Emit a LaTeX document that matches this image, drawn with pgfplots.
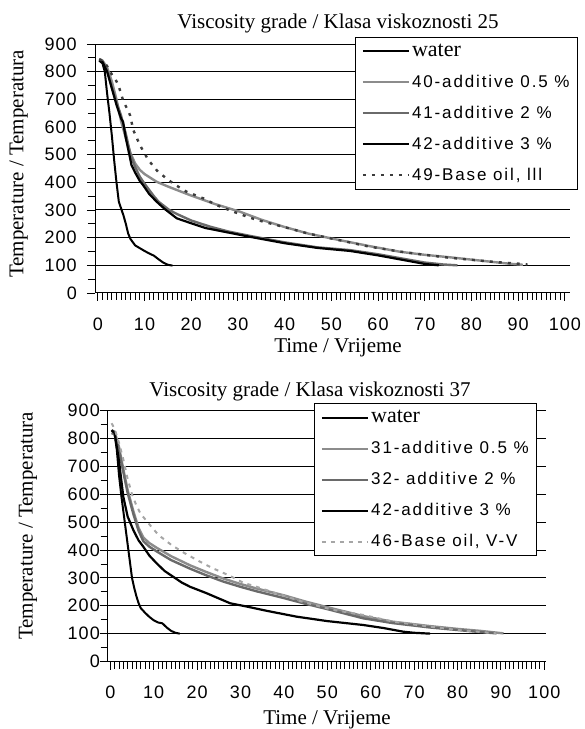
\documentclass[border=0pt]{standalone}
\usepackage{fontspec}
\setmainfont{Liberation Serif}
\newfontfamily\legfont[LetterSpace=11]{Liberation Sans}
\newfontfamily\tickfont[LetterSpace=6]{Liberation Sans}
\usepackage{pgfplots}
\pgfplotsset{compat=1.18}
\definecolor{lgray}{HTML}{8C8C8C}
\definecolor{dgray}{HTML}{6A6A6A}
\definecolor{dotdark}{HTML}{3C3C3C}
\definecolor{dotlight}{HTML}{A6A6A6}

\pgfplotsset{
  cool/.style={
    scale only axis, anchor=south west,
    ymin=0, ymax=900,
    axis lines=left, axis line style={-, black, line width=1pt},
    xtick={0,10,...,100}, minor x tick num=9,
    ytick={0,100,...,900}, minor y tick num=1,
    tick align=outside, major tick length=8pt, minor tick length=7pt,
    every tick/.style={black, line width=0.9pt},
    ymajorgrids, major grid style={black, line width=1pt},
    /pgf/number format/assume math mode=true,
    ticklabel style={font=\fontsize{18}{20}\tickfont},
    xticklabel style={yshift=-13pt},
    legend cell align=left,
    legend image code/.code={\draw[##1] (0pt,0pt) -- (46pt,0pt);},
    legend style={draw=black, line width=1pt, fill=white,
      font=\fontsize{17}{19}\legfont, anchor=north east,
      inner xsep=6pt, inner ysep=7pt, row sep=17pt,
      nodes={inner xsep=2pt, inner ysep=0pt, text height=12pt, text depth=2pt}},
  }
}

\begin{document}
\begin{tikzpicture}[x=1pt,y=1pt]
\path[use as bounding box] (0,0) rectangle (585,729);

% ---- top chart: grade 25 ----
\begin{axis}[cool, at={(95pt,436pt)}, width=475pt, height=249pt,
  xmin=-0.6, xmax=101.1,
  yticklabel style={xshift=-6.7pt},
  legend style={at={(1.017,1.029)}}]
\addplot[black, line width=2pt] coordinates {
 (0.3,840)(1,830)(1.5,800)(2,720)(2.5,650)(3,570)(3.5,480)(4,400)(4.5,330)(5,305)
 (5.5,280)(6,250)(6.5,215)(7,195)(8,172)(9,162)(10,152)(11,143)(12,135)(13,122)
 (14,110)(15,102)(16,99)};
\addlegendentry{\fontsize{22}{22}\rmfamily water}
\addplot[lgray, line width=2.4pt] coordinates {
 (0.3,845)(1,840)(2,815)(3,765)(4,700)(5,620)(6,560)(7,505)(8,468)(9,445)(10,430)
 (12.6,402)(15,385)(19.7,354)(25,322)(30.4,294)(35,265)(39.7,240)(45,215)(51.8,191)
 (58,170)(64.7,149)(70,138)(75.4,129)(82.5,116)(88,106)(91,102)};
\addlegendentry{40-additive 0.5 \%}
\addplot[dgray, line width=2.4pt] coordinates {
 (0.3,845)(1,838)(2,805)(3,745)(4,690)(5,640)(6,575)(7,500)(8,455)(9,420)(10,395)
 (12,350)(13,330)(15.3,300)(17,285)(20,262)(24,240)(28,222)(33,205)(40,183)(47,165)
 (54,155)(60,140)(66,122)(70,110)(74,103)(77,100)};
\addlegendentry{41-additive 2 \%}
\addplot[black, line width=2.2pt] coordinates {
 (0.3,840)(1,835)(2,800)(3,740)(4,680)(5,630)(5.4,619)(6,560)(7,480)(7.2,463)(8,435)
 (9,405)(9.7,390)(11,358)(12.6,330)(14.3,304)(16.9,270)(20,252)(23,235)(26.9,222)
 (32.6,203)(40,180)(47,163)(54,152)(60,136)(66.8,115)(70,105)(73,100)};
\addlegendentry{42-additive 3 \%}
\addplot[dotdark, line width=2.4pt, dash pattern=on 3pt off 6pt] coordinates {
 (0.3,845)(1,840)(2,820)(3,790)(4,765)(4.4,752)(5.4,697)(6.9,643)(7.6,589)(9,535)
 (10.8,481)(12.9,438)(16.1,396)(19,366)(22.6,342)(25.4,318)(29,294)(32.6,272)
 (35.4,258)(40,238)(45,215)(52,190)(58,168)(65,149)(70,138)(75,128)(80,120)(85,112)
 (90,106)(92,103)};
\addlegendentry{49-Base oil, lll}
\end{axis}

% ---- bottom chart: grade 37 ----
\begin{axis}[cool, at={(107.7pt,67.5pt)}, width=438.3pt, height=250.8pt,
  xmin=-0.6, xmax=100.4,
  yticklabel style={xshift=3.6pt},
  legend style={at={(0.980,1.0295)}}]
\addplot[black, line width=2pt] coordinates {
 (0.3,830)(1,815)(1.5,760)(2,670)(2.5,600)(3,540)(3.5,480)(4,420)(4.5,360)(5,300)
 (5.5,265)(6,235)(6.5,210)(7,192)(8,175)(9,160)(10,148)(11,140)(12,137)(13,122)
 (14,110)(15,103)(16,100)};
\addlegendentry{\fontsize{22}{22}\rmfamily water}
\addplot[lgray, line width=2.4pt] coordinates {
 (0.3,830)(1,825)(2,770)(3,690)(4,615)(5.3,540)(6.5,480)(7.6,445)(9,425)(10.7,408)
 (14,378)(18.4,345)(22,322)(26,298)(30,278)(33.7,262)(39.9,238)(45,215)(50,195)
 (58.3,163)(65,143)(73.7,127)(80,117)(85.2,110)(90.6,101)};
\addlegendentry{31-additive 0.5 \%}
\addplot[dgray, line width=2.4pt] coordinates {
 (0.3,820)(1,815)(2,760)(3,680)(4,605)(5.3,530)(6.5,470)(7.6,432)(9,412)(10.7,395)
 (14,364)(18.4,333)(22,310)(26,287)(30,268)(33.7,252)(39.9,228)(45,207)(50,188)
 (58.3,155)(65,138)(73.7,122)(80,113)(85,106)(89,101)};
\addlegendentry{32- additive 2 \%}
\addplot[black, line width=2.2pt] coordinates {
 (0.3,830)(1,820)(2,720)(3,591)(4,520)(5.3,472)(6.5,435)(7.6,412)(9,380)(10.7,352)
 (12.5,325)(14.5,304)(16.5,283)(18.4,268)(22.2,245)(27.6,209)(31.5,197)(36,182)
 (42.9,161)(50,145)(58.3,131)(63,120)(67.5,107)(70,103)(73.7,100)};
\addlegendentry{42-additive 3 \%}
\addplot[dotlight, line width=2pt, dash pattern=on 4pt off 5pt] coordinates {
 (0.3,855)(1,835)(2,785)(3,725)(4,655)(5,600)(6,560)(7,530)(8.8,496)(11.1,454)
 (14.1,418)(17.2,388)(20.7,358)(23.7,334)(27.2,310)(30.6,283)(33.7,268)(37.2,250)
 (44.1,215)(51.4,185)(58.3,167)(65.2,143)(73.7,125)(80,113)(86,105)(89,101)};
\addlegendentry{46-Base oil, V-V}
\end{axis}

% titles and axis labels
\node[font=\fontsize{21}{24}\selectfont] at (338,706) {Viscosity grade / Klasa viskoznosti 25};
\node[font=\fontsize{21}{24}\selectfont] at (338,381) {Time / Vrijeme};
\node[font=\fontsize{21}{24}\selectfont, rotate=90] at (18.7,565) {Temperature / Temperatura};
\node[font=\fontsize{21}{24}\selectfont] at (310,337.3) {Viscosity grade / Klasa viskoznosti 37};
\node[font=\fontsize{21}{24}\selectfont] at (327,9) {Time / Vrijeme};
\node[font=\fontsize{21}{24}\selectfont, rotate=90] at (28,203) {Temperature / Temperatura};
\end{tikzpicture}
\end{document}
